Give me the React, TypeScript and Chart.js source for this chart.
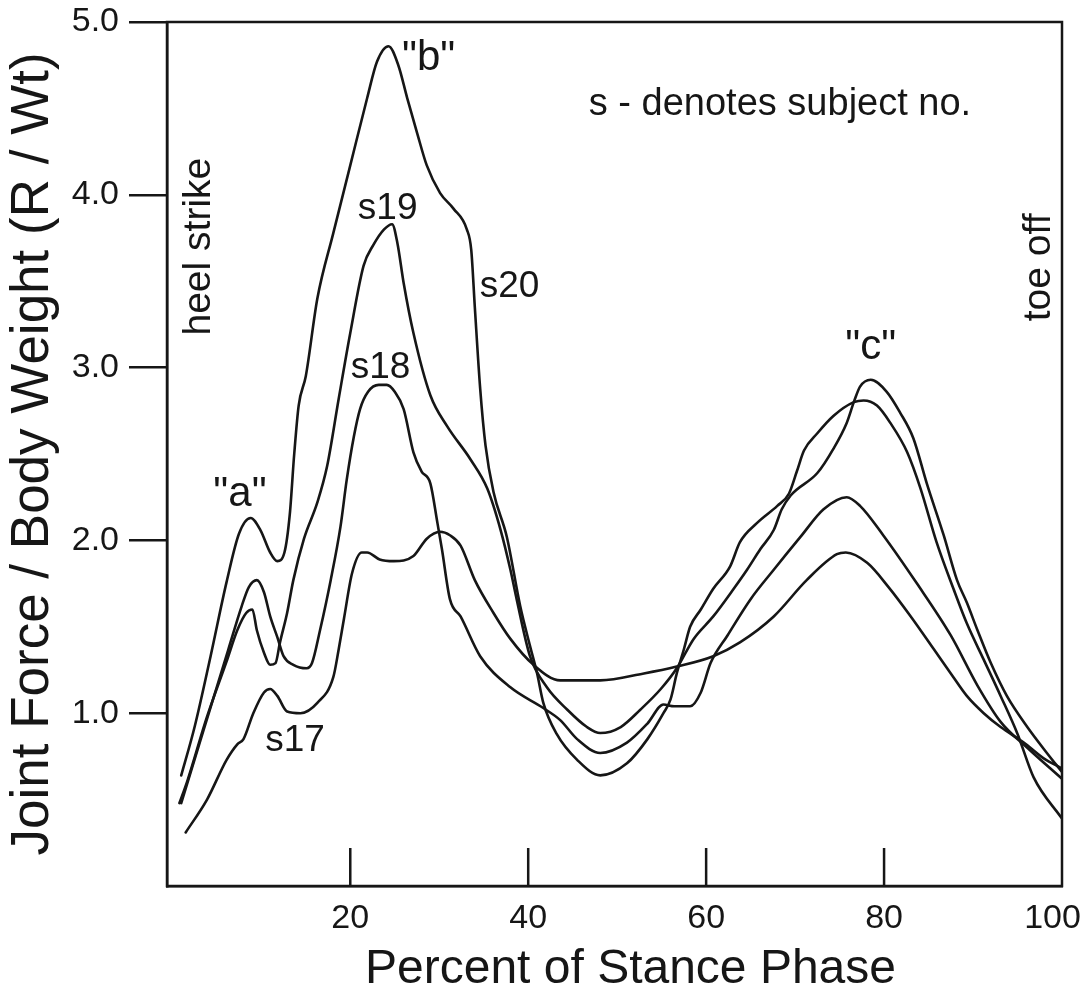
import React, { useEffect, useRef } from "react";
import { Chart, registerables } from "chart.js";

Chart.register(...registerables);

type Pt = [number, number];

// ---- axis ticks ----
const xTickValues = [20, 40, 60, 80, 100];
const yTickValues = [1, 2, 3, 4, 5];

// ---- series (percent of stance phase, R / Wt) ----
const s17: Pt[] = [
  [1.5, 0.31], [3.9, 0.5], [6.1, 0.73], [7.3, 0.82], [8.0, 0.85], [9.1, 1.0], [10.3, 1.12],
  [11.0, 1.14], [11.8, 1.1], [12.9, 1.01], [14.4, 1.0], [16.3, 1.06], [18.1, 1.21], [18.7, 1.37],
  [19.3, 1.55], [20.2, 1.81], [21.3, 1.93], [21.9, 1.93], [23.3, 1.89], [24.9, 1.88], [27.1, 1.91],
  [28.6, 2.01], [30.1, 2.05], [31.2, 2.03], [32.4, 1.97], [34.0, 1.77], [36.1, 1.58], [38.0, 1.43],
  [40.6, 1.28], [43.6, 1.19], [48.1, 1.19], [53.0, 1.23], [56.7, 1.27], [60.8, 1.33], [63.8, 1.41],
  [67.6, 1.56], [71.3, 1.77], [74.7, 1.92], [75.7, 1.93], [78.1, 1.87], [80.5, 1.73], [83.0, 1.56],
  [85.6, 1.37], [87.5, 1.23], [89.3, 1.1], [91.2, 1.0], [93.1, 0.92], [95.7, 0.83], [97.9, 0.74],
  [100, 0.68],
];

const s18: Pt[] = [
  [1.0, 0.48], [3.5, 0.9], [6.3, 1.37], [7.8, 1.62], [8.6, 1.73], [9.5, 1.77], [10.3, 1.7],
  [11.0, 1.56], [11.8, 1.44], [12.5, 1.33], [13.6, 1.28], [15.1, 1.26], [15.7, 1.29], [16.6, 1.48],
  [17.8, 1.77], [18.9, 2.08], [19.6, 2.35], [20.4, 2.6], [21.1, 2.76], [22.0, 2.86], [23.2, 2.9],
  [24.1, 2.9], [25.0, 2.86], [26.0, 2.76], [27.1, 2.51], [28.0, 2.4], [29.0, 2.33], [29.8, 2.1],
  [30.3, 1.95], [31.2, 1.66], [32.4, 1.56], [34.6, 1.33], [38.0, 1.15], [41.7, 1.03], [43.6, 0.96],
  [45.5, 0.85], [48.1, 0.77], [51.1, 0.83], [53.4, 0.94], [55.2, 1.05], [56.4, 1.04], [58.2, 1.04],
  [59.4, 1.12], [60.5, 1.29], [62.4, 1.45], [65.0, 1.66], [67.6, 1.83], [70.6, 2.02], [73.2, 2.18],
  [75.8, 2.25], [77.3, 2.2], [79.9, 2.03], [83.7, 1.75], [87.5, 1.45], [90.5, 1.16], [93.1, 0.95],
  [96.1, 0.8], [100, 0.62],
];

const s19: Pt[] = [
  [0.8, 0.48], [1.7, 0.61], [3.9, 0.98], [6.1, 1.3], [7.3, 1.48], [8.3, 1.58], [9.0, 1.6],
  [9.5, 1.48], [10.3, 1.35], [11.0, 1.28], [11.6, 1.29], [12.1, 1.41], [12.9, 1.58], [13.6, 1.77],
  [14.8, 2.01], [16.3, 2.22], [17.4, 2.43], [18.7, 2.82], [20.0, 3.2], [21.5, 3.59], [22.6, 3.71],
  [23.8, 3.8], [24.7, 3.83], [25.3, 3.72], [26.0, 3.49], [27.1, 3.2], [29.0, 2.84], [30.9, 2.66],
  [33.5, 2.47], [35.4, 2.3], [36.9, 2.06], [38.0, 1.83], [38.7, 1.66], [40.2, 1.33], [42.1, 1.15],
  [44.4, 1.02], [46.6, 0.92], [48.1, 0.885], [50.4, 0.92], [52.6, 1.02], [54.9, 1.14], [56.7, 1.26],
  [58.6, 1.43], [60.8, 1.56], [63.1, 1.72], [64.6, 1.83], [66.1, 1.95], [67.6, 2.06], [68.5, 2.18],
  [69.5, 2.26], [72.5, 2.39], [74.3, 2.53], [75.8, 2.68], [76.6, 2.8], [77.3, 2.89], [78.5, 2.93],
  [80.3, 2.86], [81.8, 2.74], [83.3, 2.59], [84.8, 2.33], [86.7, 2.03], [88.2, 1.77], [89.3, 1.64],
  [90.5, 1.48], [92.0, 1.29], [93.8, 1.1], [96.1, 0.92], [98.3, 0.77], [100, 0.66],
];

const s20: Pt[] = [
  [1.0, 0.64], [2.5, 0.92], [4.3, 1.33], [6.1, 1.76], [7.5, 2.04], [8.8, 2.13], [9.9, 2.06],
  [11.0, 1.93], [11.8, 1.88], [12.6, 1.93], [13.2, 2.15], [13.7, 2.5], [14.2, 2.78], [15.0, 2.95],
  [16.3, 3.4], [18.1, 3.78], [20.0, 4.17], [21.9, 4.56], [23.0, 4.77], [24.3, 4.86], [25.4, 4.75],
  [26.4, 4.56], [27.5, 4.36], [28.6, 4.17], [30.1, 4.01], [31.6, 3.92], [33.1, 3.8], [33.6, 3.68],
  [34.0, 3.35], [34.6, 2.88], [35.2, 2.55], [36.1, 2.28], [37.6, 2.02], [39.1, 1.62], [40.2, 1.39],
  [41.0, 1.23], [41.7, 1.06], [43.2, 0.88], [45.5, 0.73], [48.1, 0.64], [51.1, 0.71], [53.4, 0.85],
  [55.2, 1.0], [56.0, 1.08], [56.7, 1.23], [57.5, 1.37], [58.2, 1.5], [59.4, 1.6], [60.8, 1.72],
  [62.7, 1.85], [63.8, 1.99], [65.7, 2.1], [68.0, 2.2], [69.3, 2.27], [70.2, 2.4], [71.0, 2.52],
  [72.5, 2.62], [74.3, 2.72], [76.6, 2.8], [77.7, 2.81], [79.2, 2.78], [80.7, 2.68], [82.6, 2.51],
  [84.1, 2.3], [85.9, 1.99], [87.8, 1.72], [89.3, 1.52], [91.2, 1.31], [93.1, 1.1], [95.0, 0.88],
  [96.8, 0.63], [100, 0.39],
];

const seriesNames = ["s17", "s18", "s19", "s20"];
const seriesData = [s17, s18, s19, s20];

const xTitle = "Percent of Stance Phase";
const yTitle = "Joint Force / Body Weight (R / Wt)";

// annotations, placed in data coordinates (baseline centre)
type Note = { text: string; x: number; y: number; kind: "quote" | "subject" | "legend" | "vertical" };
const notes: Note[] = [
  { text: '"a"', x: 7.6, y: 2.2, kind: "quote" },
  { text: '"b"', x: 28.8, y: 4.72, kind: "quote" },
  { text: '"c"', x: 78.5, y: 3.05, kind: "quote" },
  { text: "s - denotes subject no.", x: 68.3, y: 4.46, kind: "legend" },
  { text: "s19", x: 24.2, y: 3.86, kind: "subject" },
  { text: "s20", x: 37.9, y: 3.41, kind: "subject" },
  { text: "s18", x: 23.4, y: 2.94, kind: "subject" },
  { text: "s17", x: 13.8, y: 0.78, kind: "subject" },
  { text: "heel strike", x: 4.27, y: 3.7, kind: "vertical" },
  { text: "toe off", x: 98.7, y: 3.58, kind: "vertical" },
];

const INK = "#161616";
const FONT = "'Liberation Sans', Arial, Helvetica, sans-serif";
const NOTE_SIZE: Record<string, number> = { quote: 42, subject: 37, legend: 38, vertical: 39 };
const X_MIN = -0.6;
const X_MAX = 100;

const decorations = {
  id: "decorations",
  afterDraw(chart: any) {
    const { ctx, chartArea: a, scales } = chart;
    const xs = scales.x;
    const ys = scales.y;
    ctx.save();
    ctx.strokeStyle = INK;
    ctx.lineWidth = 2.5;
    ctx.strokeRect(a.left, a.top, a.right - a.left, a.bottom - a.top);
    // inward x tick marks
    ctx.beginPath();
    for (const v of xTickValues) {
      if (v >= X_MAX) continue;
      const px = xs.getPixelForValue(v);
      ctx.moveTo(px, a.bottom);
      ctx.lineTo(px, a.bottom - 38);
    }
    ctx.stroke();
    // notes
    ctx.fillStyle = INK;
    ctx.textAlign = "center";
    ctx.textBaseline = "alphabetic";
    for (const n of notes) {
      const px = xs.getPixelForValue(n.x);
      const py = ys.getPixelForValue(n.y);
      ctx.font = `${NOTE_SIZE[n.kind]}px ${FONT}`;
      if (n.kind === "vertical") {
        ctx.save();
        ctx.translate(px, py);
        ctx.rotate(-Math.PI / 2);
        ctx.fillText(n.text, 0, 0);
        ctx.restore();
      } else {
        ctx.fillText(n.text, px, py);
      }
    }
    // x axis title
    ctx.font = `48px ${FONT}`;
    ctx.fillText(xTitle, (a.left + a.right) / 2 + 16, chart.height - 10);
    ctx.restore();
  },
};

export default function App() {
  const ref = useRef<HTMLCanvasElement>(null);
  useEffect(() => {
    document.body.style.margin = "0";
    document.body.style.overflow = "hidden";
    const chart = new Chart(ref.current as HTMLCanvasElement, {
      type: "line",
      data: {
        datasets: seriesData.map((s, i) => ({
          label: seriesNames[i],
          data: s.map(([x, y]) => ({ x, y })),
          borderColor: INK,
          borderWidth: 2.6,
          pointRadius: 0,
          fill: false,
          cubicInterpolationMode: "monotone" as const,
          borderJoinStyle: "round" as const,
          borderCapStyle: "round" as const,
        })),
      },
      options: {
        responsive: false,
        animation: false,
        devicePixelRatio: 1,
        layout: { padding: { top: 22, right: 26, left: 0, bottom: 0 } },
        plugins: { legend: { display: false }, tooltip: { enabled: false } },
        events: [],
        scales: {
          x: {
            type: "linear",
            min: X_MIN,
            max: X_MAX,
            afterBuildTicks: (axis: any) => {
              axis.ticks = xTickValues.map((v) => ({ value: v }));
            },
            afterFit: (axis: any) => {
              axis.height = 107;
              axis.paddingLeft = 0;
              axis.paddingRight = 0;
            },
            grid: { display: false },
            border: { display: true, color: INK, width: 2.5 },
            ticks: {
              color: INK,
              padding: 4,
              maxRotation: 0,
              autoSkip: false,
              font: { family: FONT, size: 34 },
              // the last label sits a little inside the frame edge
              callback: (v: any) => (Number(v) === X_MAX ? String(v) + "  " : String(v)),
            },
            title: { display: false, text: xTitle },
          },
          y: {
            type: "linear",
            min: 0,
            max: 5,
            afterBuildTicks: (axis: any) => {
              axis.ticks = yTickValues.map((v) => ({ value: v }));
            },
            afterFit: (axis: any) => {
              axis.width = 167;
              axis.paddingTop = 0;
              axis.paddingBottom = 0;
            },
            grid: {
              display: true,
              drawOnChartArea: false,
              drawTicks: true,
              tickLength: 38,
              color: INK,
              lineWidth: 2.5,
            },
            border: { display: true, color: INK, width: 2.5 },
            ticks: {
              color: INK,
              padding: 10,
              autoSkip: false,
              font: { family: FONT, size: 34 },
              callback: (v: any) => Number(v).toFixed(1),
            },
            title: {
              display: true,
              text: yTitle,
              color: INK,
              font: { family: FONT, size: 53, weight: "normal" },
              padding: { top: 2, bottom: 0 },
            },
          },
        },
      },
      plugins: [decorations],
    });
    return () => chart.destroy();
  }, []);
  return (
    <div style={{ width: 1088, height: 993, background: "#ffffff" }}>
      <canvas ref={ref} width={1088} height={993} style={{ display: "block" }} />
    </div>
  );
}
